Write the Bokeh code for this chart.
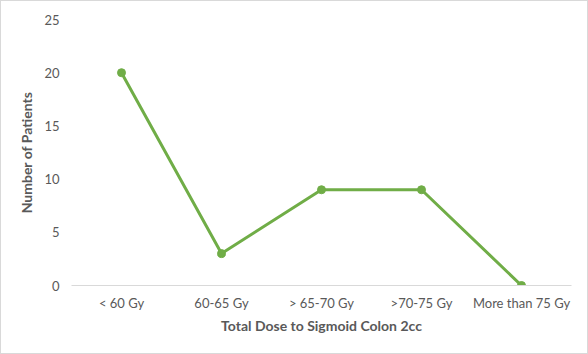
from bokeh.plotting import figure
from bokeh.models import Range1d, FixedTicker
from bokeh.embed import file_html
from bokeh.resources import INLINE

categories = ["< 60 Gy", "60-65 Gy", "> 65-70 Gy", ">70-75 Gy", "More than 75 Gy"]
patients = [20, 3, 9, 9, 0]
y_ticks = [0, 5, 10, 15, 20, 25]

GREEN = "#70AD47"
TEXT = "#595959"
FONT = "Lato"

p = figure(width=588, height=354, x_range=categories, y_range=Range1d(0, 25),
           output_backend="svg", toolbar_location=None,
           min_border_left=70, min_border_right=18, min_border_top=18, min_border_bottom=70)
p.x_range.range_padding = 0
p.outline_line_color = None
p.xgrid.grid_line_color = None
p.ygrid.grid_line_color = None
p.background_fill_color = "white"
p.border_fill_color = "white"
p.styles = {"border": "1px solid #d9d9d9", "box-sizing": "border-box"}

p.line(categories, patients, line_color=GREEN, line_width=3)
p.scatter(categories, patients, size=8, fill_color=GREEN, line_color=GREEN)

p.yaxis.ticker = FixedTicker(ticks=y_ticks)
p.yaxis.axis_line_color = None
p.yaxis.major_tick_line_color = None
p.yaxis.minor_tick_line_color = None
p.yaxis.major_label_standoff = 6
p.yaxis.major_label_text_color = TEXT
p.yaxis.major_label_text_font = FONT
p.yaxis.major_label_text_font_size = "13px"
p.yaxis.axis_label = "Number of Patients"
p.yaxis.axis_label_text_color = TEXT
p.yaxis.axis_label_text_font = FONT
p.yaxis.axis_label_text_font_size = "14px"
p.yaxis.axis_label_text_font_style = "bold"
p.yaxis.axis_label_standoff = 6

p.xaxis.axis_line_color = "#d9d9d9"
p.xaxis.axis_line_width = 1
p.xaxis.major_tick_line_color = None
p.xaxis.minor_tick_line_color = None
p.xaxis.major_label_standoff = 3
p.xaxis.major_label_text_color = TEXT
p.xaxis.major_label_text_font = FONT
p.xaxis.major_label_text_font_size = "13px"
p.xaxis.axis_label = "Total Dose to Sigmoid Colon 2cc"
p.xaxis.axis_label_text_color = TEXT
p.xaxis.axis_label_text_font = FONT
p.xaxis.axis_label_text_font_size = "14px"
p.xaxis.axis_label_text_font_style = "bold"
p.xaxis.axis_label_standoff = 3

open("out.html", "w").write(file_html(p, INLINE))
